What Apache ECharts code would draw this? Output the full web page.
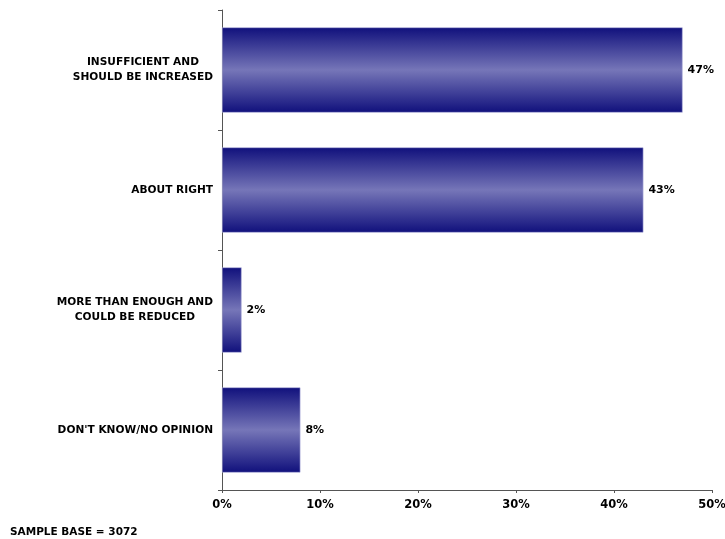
<!DOCTYPE html>
<html>
<head>
<meta charset="utf-8">
<script src="https://cdn.jsdelivr.net/npm/echarts@6/dist/echarts.min.js"></script>
<style>
  html, body { margin: 0; padding: 0; background: #fff; }
  #chart { width: 725px; height: 539px; }
</style>
</head>
<body>
<div id="chart"></div>
<script>
// Opinion categories, top to bottom
const categories = [
  'INSUFFICIENT AND\nSHOULD BE INCREASED',
  'ABOUT RIGHT',
  'MORE THAN ENOUGH AND\nCOULD BE REDUCED',
  "DON'T KNOW/NO OPINION"
];
// Share of respondents (%)
const shares = [47, 43, 2, 8];
// Horizontal axis ticks (%)
const tickValues = [0, 10, 20, 30, 40, 50];
const sampleBase = 3072;

const FONT = '"DejaVu Sans", Verdana, sans-serif';

const barFill = new echarts.graphic.LinearGradient(0, 0, 0, 1, [
  { offset: 0, color: '#10107c' },
  { offset: 0.5, color: '#7676b8' },
  { offset: 1, color: '#10107c' }
]);

const chart = echarts.init(document.getElementById('chart'), null, { renderer: 'canvas' });
chart.setOption({
  animation: false,
  backgroundColor: '#ffffff',
  grid: {
    left: 222, right: 13, top: 10, bottom: 49,
    containLabel: false,
    outerBoundsMode: 'none'
  },
  xAxis: {
    type: 'value',
    min: tickValues[0],
    max: tickValues[tickValues.length - 1],
    interval: tickValues[1] - tickValues[0],
    splitLine: { show: false },
    axisLine: { show: true, lineStyle: { color: '#555555', width: 1 } },
    axisTick: { show: true, length: 3, lineStyle: { color: '#555555' } },
    axisLabel: {
      formatter: v => v + '%',
      color: '#000',
      fontFamily: FONT,
      fontWeight: 'bold',
      fontSize: 11.5,
      margin: 9
    }
  },
  yAxis: {
    type: 'category',
    data: categories,
    inverse: true,
    axisLine: { show: true, lineStyle: { color: '#555555', width: 1 } },
    axisTick: { show: true, length: 4, alignWithLabel: false, lineStyle: { color: '#555555' } },
    axisLabel: {
      // each line centred within a right-aligned block
      formatter: v => v.split('\n').map(line => '{c|' + line + '}').join('\n'),
      align: 'right',
      margin: 9,
      rich: {
        c: {
          align: 'center',
          color: '#000',
          fontFamily: FONT,
          fontWeight: 'bold',
          fontSize: 10.6,
          lineHeight: 15
        }
      }
    }
  },
  series: [{
    type: 'bar',
    data: shares,
    barCategoryGap: '29%',
    itemStyle: {
      color: barFill,
      borderColor: '#b0b0dc',
      borderWidth: 0.6
    },
    label: {
      show: true,
      position: 'right',
      distance: 5,
      formatter: p => p.value + '%',
      color: '#000',
      fontFamily: FONT,
      fontWeight: 'bold',
      fontSize: 11
    }
  }],
  graphic: [{
    type: 'text',
    left: 10,
    top: 527,
    style: {
      text: 'SAMPLE BASE = ' + sampleBase,
      fill: '#000',
      font: 'bold 10.5px ' + FONT
    }
  }]
});
</script>
</body>
</html>
